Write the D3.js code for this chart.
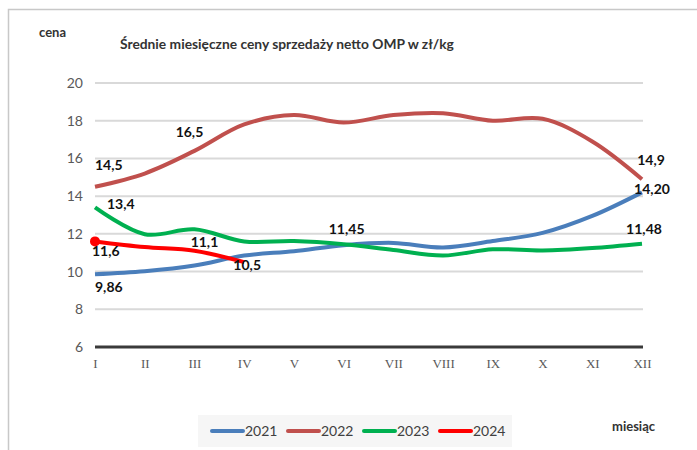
<!DOCTYPE html>
<html>
<head>
<meta charset="utf-8">
<script src="https://cdn.jsdelivr.net/npm/d3@7"></script>
<style>
  body { margin: 0; background: #fff; }
</style>
</head>
<body>
<div id="chart-area"></div>
<script>
const W = 697, H = 450;

// data
const months = ["I", "II", "III", "IV", "V", "VI", "VII", "VIII", "IX", "X", "XI", "XII"];
const yTicks = [6, 8, 10, 12, 14, 16, 18, 20];
const years = ["2021", "2022", "2023", "2024"];
const colors = ["#4A7EBB", "#C0504D", "#00B050", "#FF0000"];
const v2021 = [9.86, 10.02, 10.32, 10.85, 11.08, 11.4, 11.52, 11.28, 11.62, 12.05, 12.95, 14.2];
const v2022 = [14.5, 15.2, 16.4, 17.8, 18.3, 17.9, 18.3, 18.4, 18.0, 18.1, 16.9, 14.9];
const v2023 = [13.4, 11.98, 12.24, 11.6, 11.62, 11.45, 11.14, 10.85, 11.18, 11.12, 11.25, 11.48];
const v2024 = [11.6, 11.3, 11.1, 10.5];
const series = [v2021, v2022, v2023, v2024];

// data labels: [series index, month index, text]
const dataLabels = [
  [0, 0, "9,86"], [0, 5, "11,45"], [0, 11, "14,20"],
  [1, 0, "14,5"], [1, 2, "16,5"], [1, 11, "14,9"],
  [2, 0, "13,4"], [2, 11, "11,48"],
  [3, 0, "11,6"], [3, 2, "11,1"], [3, 3, "10,5"]
];
// offsets of the labels from their points
const labelOffsets = [
  [0, 18], [3, -11], [10, 2],
  [0, -17], [-5, -14], [9, -14],
  [12, 2], [2, -10],
  [-3, 15], [10, -4], [3, 8]
];

const svg = d3.select("#chart-area").append("svg")
    .attr("width", W)
    .attr("height", H)
    .attr("font-family", "Lato, 'Open Sans', sans-serif");

// frame
svg.append("path")
    .attr("d", `M8.5,${H} V9.5 H${W}`)
    .attr("fill", "none")
    .attr("stroke", "#c8c8c8")
    .attr("stroke-width", 1.5);

const x = d3.scalePoint()
    .domain(months)
    .range([95, 642]);

const y = d3.scaleLinear()
    .domain([6, 20])
    .range([347, 83]);

// grid lines
svg.append("g")
    .selectAll("line")
    .data(yTicks)
    .join("line")
    .attr("x1", 95)
    .attr("x2", 643)
    .attr("y1", d => y(d))
    .attr("y2", d => y(d))
    .attr("stroke", d => d === 6 ? "#3a3a3a" : "#d9d9d9")
    .attr("stroke-width", d => d === 6 ? 3 : 2);

// y axis labels
const yAxisCall = d3.axisLeft(y).tickValues(yTicks).tickSize(0).tickPadding(0);
const yAxis = svg.append("g")
    .attr("transform", "translate(83, 0)")
    .call(yAxisCall)
    .attr("font-family", "Lato, sans-serif");
yAxis.select(".domain").remove();
yAxis.selectAll("text")
    .attr("font-size", "14px")
    .attr("fill", "#595959");

// x axis labels
const xAxisCall = d3.axisBottom(x).tickSize(0).tickPadding(0);
const xAxis = svg.append("g")
    .attr("transform", "translate(0, 359)")
    .call(xAxisCall)
    .attr("font-family", "'Liberation Serif', 'DejaVu Serif', serif");
xAxis.select(".domain").remove();
xAxis.selectAll("text")
    .attr("font-size", "13px")
    .attr("fill", "#595959");

// lines
const line = d3.line()
    .x((d, i) => x(months[i]))
    .y(d => y(d))
    .curve(d3.curveCatmullRom.alpha(0.5));

svg.append("g")
    .selectAll("path")
    .data(series)
    .join("path")
    .attr("d", d => line(d))
    .attr("fill", "none")
    .attr("stroke", (d, i) => colors[i])
    .attr("stroke-width", 4)
    .attr("stroke-linecap", "butt");

// marker on 2024 start
svg.append("circle")
    .attr("cx", x(months[0]))
    .attr("cy", y(v2024[0]))
    .attr("r", 5)
    .attr("fill", colors[3]);

// data labels
svg.append("g")
    .selectAll("text")
    .data(dataLabels)
    .join("text")
    .attr("x", (d, i) => x(months[d[1]]) + labelOffsets[i][0])
    .attr("y", (d, i) => y(series[d[0]][d[1]]) + labelOffsets[i][1])
    .attr("text-anchor", d => d[1] === 0 ? "start" : "middle")
    .attr("font-size", "14px")
    .attr("font-weight", "700")
    .attr("fill", "#111")
    .text(d => d[2]);

// titles
svg.append("text")
    .attr("x", 39)
    .attr("y", 37)
    .attr("font-size", "13px")
    .attr("font-weight", "700")
    .attr("fill", "#333")
    .text("cena");

svg.append("text")
    .attr("x", 120)
    .attr("y", 49)
    .attr("font-size", "13.8px")
    .attr("font-weight", "700")
    .attr("fill", "#333")
    .text("Średnie miesięczne ceny sprzedaży netto OMP w zł/kg");

svg.append("text")
    .attr("x", 612)
    .attr("y", 431)
    .attr("font-size", "13px")
    .attr("font-weight", "700")
    .attr("fill", "#333")
    .text("miesiąc");

// legend
const legend = svg.append("g");
legend.append("rect")
    .attr("x", 198)
    .attr("y", 415)
    .attr("width", 314)
    .attr("height", 32)
    .attr("fill", "#f6f6f6");

years.forEach((year, i) => {
    const row = legend.append("g")
        .attr("transform", `translate(${212 + i * 76}, 431)`);
    row.append("line")
        .attr("x1", 0)
        .attr("x2", 31)
        .attr("stroke", colors[i])
        .attr("stroke-width", 4)
        .attr("stroke-linecap", "round");
    row.append("text")
        .attr("x", 33)
        .attr("y", 5)
        .attr("font-size", "14px")
        .attr("fill", "#404040")
        .text(year);
});
</script>
</body>
</html>
